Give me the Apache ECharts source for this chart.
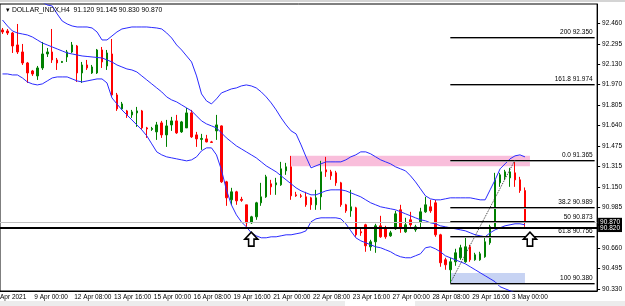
<!DOCTYPE html>
<html><head><meta charset="utf-8">
<script src="https://cdn.jsdelivr.net/npm/echarts@6/dist/echarts.min.js"></script>
<style>html,body{margin:0;padding:0;background:#fff}#c{width:625px;height:306px}</style>
</head><body><div id="c"></div>
<script>
const symbolName = "DOLLAR_INDX,H4";
const tickLabels = ["7 Apr 2021","9 Apr 00:00","12 Apr 08:00","13 Apr 16:00","15 Apr 00:00","16 Apr 08:00","19 Apr 16:00","21 Apr 00:00","22 Apr 08:00","23 Apr 16:00","27 Apr 00:00","28 Apr 08:00","29 Apr 16:00","3 May 00:00"];
const priceTicks = [92.460,92.295,92.130,91.970,91.805,91.640,91.475,91.315,91.150,90.985,90.660,90.495,90.330];
// [open, close, low, high]
const candles = [
[92.406,92.390,92.374,92.422],[92.398,92.382,92.366,92.414],[92.382,92.278,92.222,92.390],[92.286,92.230,92.214,92.454],
[92.230,92.142,92.126,92.294],[92.142,92.062,91.982,92.150],[92.078,92.054,92.038,92.086],[92.038,92.102,92.006,92.118],
[92.102,92.214,92.086,92.310],[92.214,92.230,92.190,92.262],[92.230,92.166,92.142,92.414],[92.166,92.142,92.086,92.182],
[92.146,92.154,92.142,92.158],[92.190,92.230,92.150,92.246],[92.230,92.286,92.222,92.310],[92.278,92.062,91.990,92.286],
[92.062,92.126,91.982,92.150],[92.126,92.102,92.086,92.166],[92.062,92.110,92.054,92.126],[92.062,92.246,92.054,92.254],
[92.246,92.150,92.102,92.270],[92.118,92.222,92.086,92.246],[92.214,91.886,91.870,92.334],[91.886,91.774,91.758,91.902],
[91.774,91.814,91.766,91.830],[91.758,91.726,91.702,91.766],[91.726,91.750,91.702,91.766],[91.742,91.758,91.630,91.790],
[91.758,91.622,91.606,91.766],[91.622,91.614,91.542,91.630],[91.610,91.618,91.598,91.630],[91.590,91.646,91.526,91.670],
[91.662,91.566,91.542,91.678],[91.566,91.638,91.470,91.686],[91.646,91.678,91.598,91.710],[91.678,91.582,91.574,91.726],
[91.590,91.670,91.582,91.678],[91.622,91.742,91.622,91.782],[91.742,91.550,91.542,91.766],[91.566,91.534,91.470,91.590],
[91.530,91.538,91.446,91.574],[91.534,91.510,91.506,91.566],[91.510,91.506,91.502,91.518],[91.598,91.646,91.526,91.726],
[91.638,91.190,91.182,91.642],[91.190,91.062,90.998,91.198],[91.046,91.110,91.006,91.142],[91.110,91.038,91.006,91.118],
[91.050,91.042,91.030,91.070],[91.006,90.862,90.830,91.006],[90.862,90.910,90.854,90.918],[90.910,91.022,90.886,91.030],
[91.022,91.070,90.998,91.182],[91.070,91.230,91.062,91.246],[91.174,91.150,91.086,91.206],[91.166,91.182,91.086,91.222],
[91.166,91.294,91.158,91.350],[91.278,91.310,91.246,91.342],[91.310,91.078,91.046,91.398],[91.086,91.078,91.070,91.110],
[91.078,91.074,91.062,91.094],[91.070,91.006,90.990,91.110],[91.062,91.006,90.966,91.070],[91.006,91.062,90.966,91.126],
[91.070,91.270,90.966,91.358],[91.286,91.270,91.230,91.390],[91.270,91.238,91.206,91.286],[91.262,91.182,91.158,91.278],
[91.182,91.006,90.990,91.190],[91.006,90.958,90.942,91.014],[90.958,90.990,90.910,91.126],[90.982,90.766,90.750,90.990],
[90.790,90.782,90.758,90.822],[90.846,90.678,90.630,90.854],[90.670,90.710,90.638,90.726],[90.710,90.838,90.622,90.854],
[90.838,90.750,90.742,90.918],[90.822,90.750,90.734,90.838],[90.758,90.782,90.750,90.798],[90.814,90.934,90.806,90.958],
[90.966,90.822,90.782,91.006],[90.790,90.846,90.782,90.902],[90.886,90.846,90.830,90.950],[90.806,90.830,90.790,90.846],
[90.870,90.950,90.822,90.982],[90.950,91.006,90.942,91.070],[90.990,90.958,90.942,91.046],[91.022,90.766,90.750,91.046],
[90.766,90.542,90.510,90.774],[90.566,90.526,90.486,90.582],[90.486,90.550,90.380,90.582],[90.550,90.622,90.518,90.654],
[90.582,90.662,90.566,90.686],[90.550,90.670,90.542,90.750],[90.670,90.566,90.550,90.686],[90.566,90.606,90.558,90.622],
[90.566,90.614,90.558,90.630],[90.590,90.710,90.582,90.742],[90.702,90.830,90.686,90.846],[90.830,91.206,90.822,91.262],
[91.182,91.246,91.150,91.262],[91.230,91.270,91.206,91.286],[91.222,91.270,91.150,91.302],[91.262,91.206,91.150,91.365],
[91.206,91.120,91.102,91.230],[91.120,90.870,90.830,91.145]
];
const bbUpper = [92.918,92.822,92.750,92.718,92.726,92.742,92.726,92.686,92.630,92.606,92.598,92.534,92.478,92.454,92.438,92.430,92.430,92.430,92.422,92.390,
92.326,92.326,92.358,92.390,92.414,92.422,92.430,92.430,92.430,92.430,92.426,92.422,92.414,92.382,92.342,92.286,92.246,92.198,92.150,92.038,
91.894,91.838,91.814,91.854,91.902,91.918,91.934,91.942,91.958,91.966,91.958,91.942,91.910,91.870,91.822,91.766,91.702,91.646,91.598,91.574,
91.486,91.390,91.302,91.318,91.334,91.350,91.350,91.350,91.350,91.366,91.390,91.406,91.430,91.430,91.414,91.390,91.366,91.350,91.334,91.310,
91.294,91.278,91.238,91.190,91.134,91.078,91.054,91.046,91.046,91.054,91.062,91.062,91.062,91.062,91.062,91.054,91.046,91.046,91.126,91.206,
91.294,91.334,91.374,91.398,91.406,91.390];
const bbMiddle = [92.486,92.438,92.398,92.382,92.374,92.366,92.350,92.326,92.302,92.286,92.270,92.254,92.238,92.222,92.214,92.206,92.198,92.194,92.190,92.186,
92.182,92.166,92.150,92.126,92.110,92.094,92.086,92.070,92.038,92.006,91.974,91.942,91.910,91.870,91.846,91.830,91.806,91.782,91.758,91.718,
91.678,91.654,91.638,91.622,91.582,91.542,91.510,91.478,91.454,91.430,91.406,91.382,91.350,91.318,91.294,91.270,91.238,91.206,91.174,91.142,
91.118,91.102,91.086,91.086,91.102,91.118,91.126,91.126,91.126,91.118,91.102,91.086,91.070,91.046,91.022,91.006,90.990,90.982,90.974,90.966,
90.950,90.934,90.918,90.902,90.886,90.878,90.862,90.854,90.838,90.830,90.822,90.814,90.806,90.798,90.782,90.766,90.758,90.750,90.782,90.806,
90.822,90.838,90.846,90.854,90.854,90.846];
const bbLower = [92.054,92.054,92.046,92.046,92.022,91.990,91.974,91.966,91.974,91.998,92.022,92.030,92.030,92.030,92.014,91.998,91.990,91.998,92.006,92.014,
92.014,91.982,91.862,91.814,91.766,91.726,91.686,91.646,91.606,91.558,91.494,91.430,91.406,91.390,91.382,91.374,91.366,91.358,91.366,91.390,
91.438,91.462,91.462,91.406,91.286,91.126,91.006,90.926,90.870,90.830,90.782,90.758,90.742,90.742,90.750,90.750,90.758,90.766,90.766,90.774,
90.782,90.798,90.870,90.894,90.902,90.902,90.902,90.902,90.894,90.854,90.798,90.742,90.718,90.702,90.686,90.670,90.662,90.646,90.630,90.606,
90.590,90.582,90.582,90.598,90.614,90.662,90.670,90.654,90.630,90.598,90.582,90.566,90.550,90.534,90.510,90.486,90.462,90.438,90.414,90.390,
90.350,90.334,90.318,90.302,90.294,90.294];
const fibNames = ["200","161.8","0.0","38.2","50","61.8","100"];
const fibPrices = [92.350,91.974,91.365,90.989,90.873,90.756,90.380];
const fibFromBar = 90, fibToBar = 103;
const bidPrice = 90.870, hLinePrice = 90.820;
const pinkZone = {fromBar: 58, toBar: 106, top: 91.398, bottom: 91.315};
const blueZone = {fromBar: 90, toBar: 105, top: 90.460, bottom: 90.380};
const arrows = [{bar: 50, price: 90.788}, {bar: 106, price: 90.788}];

const TOTAL = 120;          // bars 0..119 (chart shifted right of last bar)
const FIRST_LABEL_BAR = -2; // bar of the first time label (7 Apr 16:00)
const cats = [];
for (let i = 0; i < TOTAL; i++) cats.push(String(i));
function pad(arr) { const out = []; for (let i = 0; i < TOTAL; i++) out.push(i < arr.length ? arr[i] : '-'); return out; }
const isLabelBar = i => (i - FIRST_LABEL_BAR) % 8 === 0;

const FONT = 'Liberation Sans';
const last = candles[candles.length - 1];
const title = symbolName + "  " + [last[0], last[3], last[2], last[1]].map(v => v.toFixed(3)).join(' ');

const lineBase = {type: 'line', symbol: 'none', silent: true, z: 4,
  lineStyle: {color: '#2a2aff', width: 1}, animation: false};

const fibLines = fibPrices.map((p, i) => [
  {coord: [fibFromBar, p], label: {formatter: fibNames[i] + ' ' + p.toFixed(3)}},
  {coord: [TOTAL - 1, p]}
]);

const chart = echarts.init(document.getElementById('c'), null, {renderer: 'canvas'});
chart.setOption({
  animation: false,
  backgroundColor: '#ffffff',
  title: {text: '\u25BE ' + title, left: 1, top: 2,
    textStyle: {fontFamily: FONT, fontSize: 6.8, fontWeight: 'normal', color: '#000'}},
  grid: {left: 0, right: 24, top: 4, bottom: 15, show: true, borderColor: '#000', borderWidth: 1},
  xAxis: {type: 'category', data: cats, boundaryGap: true,
    axisLine: {lineStyle: {color: '#000', width: 1}},
    axisTick: {alignWithLabel: true, interval: (i) => isLabelBar(i), length: 3, lineStyle: {color: '#000'}},
    axisLabel: {interval: (i) => isLabelBar(i),
      formatter: (v, i) => (isLabelBar(i) ? (tickLabels[(i - FIRST_LABEL_BAR) / 8] || '') : ''),
      align: 'left', padding: [0, 0, 0, 2], margin: 3, fontFamily: FONT, fontSize: 6.5, color: '#000'},
    splitLine: {show: false}},
  yAxis: {type: 'value', position: 'right', min: 90.316, max: 92.614, scale: true,
    axisLine: {show: true, lineStyle: {color: '#000'}},
    axisTick: {show: true, customValues: priceTicks, length: 3, lineStyle: {color: '#000'}},
    axisLabel: {customValues: priceTicks, formatter: v => v.toFixed(3), margin: 5,
      fontFamily: FONT, fontSize: 6.5, color: '#000'},
    splitLine: {show: false}},
  series: [
    {type: 'candlestick', data: pad(candles), barWidth: 2, z: 3,
      itemStyle: {color: '#008000', color0: '#ff0000', borderColor: '#008000', borderColor0: '#ff0000', borderWidth: 1},
      markArea: {silent: true, z: 1, data: [
        [{coord: [pinkZone.fromBar, pinkZone.top], itemStyle: {color: '#f9bedb'}}, {coord: [pinkZone.toBar, pinkZone.bottom]}],
        [{coord: [blueZone.fromBar, blueZone.top], itemStyle: {color: '#c7d3f3'}}, {coord: [blueZone.toBar, blueZone.bottom]}]
      ]},
      markPoint: {silent: true, z: 6,
        symbol: 'path://M6,0 L12,7 L8.5,7 L8.5,14 L3.5,14 L3.5,7 L0,7 Z',
        symbolSize: [13, 14], symbolOffset: [0, '50%'],
        itemStyle: {color: '#ffffff', borderColor: '#000', borderWidth: 1.6},
        label: {show: false},
        data: arrows.map(a => ({coord: [a.bar, a.price]}))}
    },
    Object.assign({}, lineBase, {name: 'upper', data: pad(bbUpper)}),
    Object.assign({}, lineBase, {name: 'middle', data: pad(bbMiddle)}),
    Object.assign({}, lineBase, {name: 'lower', data: pad(bbLower)}),
    {type: 'line', data: [], silent: true, z: 5,
      markLine: {symbol: 'none', silent: true, animation: false, data: [
        {yAxis: bidPrice, lineStyle: {color: '#c0c0c0', width: 1, type: 'solid'},
          label: {show: true, position: 'end', distance: 1, formatter: bidPrice.toFixed(3), color: '#fff',
            backgroundColor: '#000', padding: [1, 2, 0, 2], fontFamily: FONT, fontSize: 6.5}},
        {yAxis: hLinePrice, lineStyle: {color: '#000', width: 2, type: 'solid'},
          label: {show: true, position: 'end', distance: 1, formatter: hLinePrice.toFixed(3), color: '#fff',
            backgroundColor: '#000', padding: [0, 2, 1, 2], fontFamily: FONT, fontSize: 6.5}}
      ]}},
    {type: 'line', data: [], silent: true, z: 5,
      markLine: {symbol: 'none', silent: true, animation: false,
        lineStyle: {color: '#000', width: 1, type: 'solid', shadowColor: '#a0a0a0', shadowBlur: 0, shadowOffsetY: 1},
        label: {show: true, position: 'insideEndTop', distance: [2, 1], color: '#000', fontFamily: FONT, fontSize: 6.5},
        data: fibLines.concat([[
          {coord: [fibFromBar, fibPrices[6]], lineStyle: {type: 'dotted', color: '#333', width: 1, shadowOffsetY: 0}, label: {show: false}},
          {coord: [fibToBar, fibPrices[2]]}
        ]])}}
  ],
  graphic: [
    {type: 'rect', shape: {x: 0, y: 0, width: 625, height: 2}, style: {fill: '#d4d4d4'}, silent: true},
    {type: 'rect', shape: {x: 0, y: 301, width: 625, height: 5}, style: {fill: '#ececec'}, silent: true},
    {type: 'rect', shape: {x: 345, y: 301, width: 70, height: 5}, style: {fill: '#ffffff'}, silent: true}
  ]
});
// first time label belongs to a bar left of the visible area; place it with the axis scale
(function () {
  const bw = chart.getModel().getComponent('xAxis', 0).axis.getBandWidth();
  const x0 = chart.convertToPixel({xAxisIndex: 0}, 0) + FIRST_LABEL_BAR * bw + 2;
  const yAxisLine = chart.convertToPixel({yAxisIndex: 0}, 90.316);
  chart.setOption({graphic: [
    {type: 'rect', shape: {x: 0, y: 0, width: 625, height: 2}, style: {fill: '#d4d4d4'}, silent: true},
    {type: 'rect', shape: {x: 0, y: 301, width: 625, height: 5}, style: {fill: '#ececec'}, silent: true},
    {type: 'rect', shape: {x: 345, y: 301, width: 70, height: 5}, style: {fill: '#ffffff'}, silent: true},
    {type: 'text', x: x0, y: yAxisLine + 3, silent: true,
      style: {text: tickLabels[0], fill: '#000', font: '6.5px "Liberation Sans"', verticalAlign: 'top', align: 'left'}}
  ]});
})();
</script></body></html>
